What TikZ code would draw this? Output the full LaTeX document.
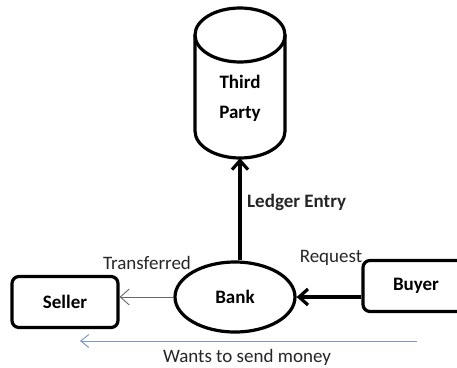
\documentclass[tikz,border=0pt]{standalone}
\usepackage{fontspec}
\setmainfont{Carlito}
\usetikzlibrary{arrows.meta,shapes.geometric}
\definecolor{wantsblue}{RGB}{125,152,195}

\begin{document}
\begin{tikzpicture}[x=1pt, y=-1pt, >={Straight Barb[length=9pt,width=16pt]},
  font=\fontsize{19}{22}\selectfont,
  party/.style={draw, line width=3.2pt, rounded corners=7pt, minimum height=51pt, font=\fontsize{19}{22}\selectfont\bfseries},
  lbl/.style={text=black!85, inner sep=1pt}]
  \useasboundingbox (0,0) rectangle (457,367);
  \clip (0,0) rectangle (457,367);
  % third party store
  \node[minimum width=90pt, minimum height=120pt, align=center, font=\fontsize{19}{30}\selectfont\bfseries] (tp) at (240,98) {Third\\Party};
  \draw[line width=3.2pt] (195,35) -- (195,131) arc[start angle=180, end angle=0, x radius=45, y radius=27] -- (285,35);
  \draw[line width=3.2pt] (240,35) ellipse[x radius=45, y radius=27];
  \node[ellipse, draw, line width=3.2pt, minimum width=120pt, minimum height=70pt, font=\fontsize{19}{22}\selectfont\bfseries] (bank) at (235,297) {Bank};
  \node[party, minimum width=106pt] (seller) at (65,302) {Seller};
  \node[party, minimum width=106pt] (buyer) at (416,286) {Buyer};
  % flows between the parties
  \draw[->, line width=3.2pt] (tp.south |- bank.north) -- (tp.south);
  \draw[->, line width=3.2pt] (buyer.west |- bank.east) -- (bank.east);
  \draw[->, >={Straight Barb[length=9pt,width=16pt]}, black!60, line width=0.9pt] (bank.west) -- (seller.east |- bank.west);
  \node[lbl, anchor=west, font=\fontsize{19}{22}\selectfont\bfseries] (ledger) at (246,202) {Ledger Entry};
  \node[lbl] (transf) at (147,263) {Transferred};
  \node[lbl] (req) at (331,258) {Request};
  % buyer to seller
  \coordinate (wfrom) at (417,341);
  \coordinate (wto) at (80,341);
  \draw[->, >={Straight Barb[length=8pt,width=13pt]}, wantsblue, line width=1pt] (wfrom) -- (wto);
  \node[lbl] (wants) at (247,357) {Wants to send money};
\end{tikzpicture}
\end{document}
